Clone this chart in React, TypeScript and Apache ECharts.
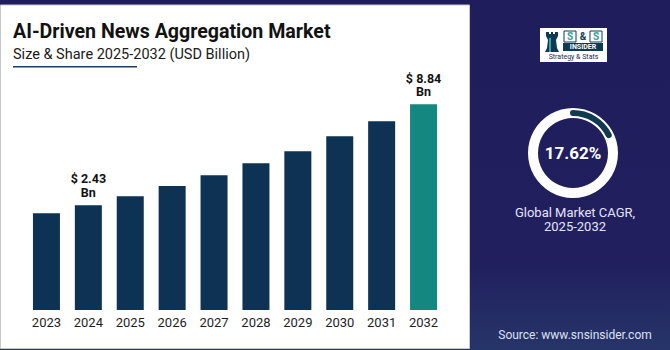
import React, { useEffect, useRef } from "react";
import * as echarts from "echarts";

const years = ["2023", "2024", "2025", "2026", "2027", "2028", "2029", "2030", "2031", "2032"];
const marketValues = [1.92, 2.43, 3.0, 3.64, 4.33, 5.1, 5.86, 6.81, 7.76, 8.84];
const labeledYears = ["2024", "2032"];
const highlightYear = "2032";
const cagrValue = 17.62;
const titleText = "AI-Driven News Aggregation Market";
const subtitleText = "Size & Share 2025-2032 (USD Billion)";
const cagrLabel = "Global Market CAGR,\n2025-2032";
const sourceText = "Source: www.snsinsider.com";
// the reference's bars do not start at zero: their baseline sits at -4.23 on the value scale
const baseOffset = 4.23;

const NAVY = "#0d3253";
const TEAL = "#158781";

export default function App() {
  const ref = useRef<HTMLDivElement>(null);
  useEffect(() => {
    if (!ref.current) return;
    const chart = echarts.init(ref.current, undefined, { renderer: "svg" });
    const barData = years.map((y, i) => ({
      value: marketValues[i] + baseOffset,
      itemStyle: { color: y === highlightYear ? TEAL : NAVY },
      label: {
        show: labeledYears.includes(y),
        position: "top",
        distance: 6,
        formatter: (p: any) => `$ ${marketValues[p.dataIndex].toFixed(2)}\nBn`,
        fontFamily: "Roboto",
        fontWeight: "bold",
        fontSize: 12.5,
        lineHeight: 13.5,
        color: "#111",
      },
    }));
    chart.setOption({
      animation: false,
      graphic: [
        { type: "rect", z: -10, shape: { x: 0, y: 0, width: 670, height: 350 },
          style: { fill: new echarts.graphic.LinearGradient(0, 0, 0, 1, [
            { offset: 0, color: "#1f1d5b" }, { offset: 0.75, color: "#211f5e" }, { offset: 1, color: "#263569" }]) } },
        { type: "rect", z: -9, shape: { x: 0.5, y: 5, width: 469, height: 343.5 },
          style: { fill: "#ffffff", stroke: "#c9c9c9", lineWidth: 1 } },
        { type: "text", x: 13, y: 31, style: { text: titleText, fontFamily: "Roboto", fontWeight: "bold", fontSize: 19.6, fill: "#121212", textVerticalAlign: "middle" } },
        { type: "text", x: 13, y: 54, style: { text: subtitleText, fontFamily: "Roboto", fontSize: 14.5, fill: "#1a1a1a", textVerticalAlign: "middle" } },
        { type: "rect", shape: { x: 13, y: 66, width: 124, height: 1.5 }, style: { fill: "#1c3d63" } },
        // logo
        { type: "rect", shape: { x: 540, y: 28, width: 67, height: 34 }, style: { fill: "#ffffff" } },
        { type: "polygon", shape: { points: [[545, 52], [559, 52], [557, 48], [556, 40], [558, 36], [558, 32], [555, 32], [555, 34], [553, 34], [553, 32], [551, 32], [551, 34], [549, 34], [549, 32], [546, 32], [546, 36], [548, 40], [547, 48]] }, style: { fill: "#0e3a55" } },
        { type: "rect", shape: { x: 549, y: 38, width: 2, height: 14 }, style: { fill: "#36a6a0" } },
        { type: "rect", shape: { x: 564, y: 31, width: 12, height: 11 }, style: { fill: "#ffffff", stroke: "#0e3a55", lineWidth: 1 } },
        { type: "rect", shape: { x: 590, y: 31, width: 12, height: 11 }, style: { fill: "#ffffff", stroke: "#0e3a55", lineWidth: 1 } },
        { type: "text", x: 570, y: 36.5, style: { text: "S", fontFamily: "Roboto", fontWeight: "bold", fontSize: 10, fill: "#2ea39c", align: "center", verticalAlign: "middle" } },
        { type: "text", x: 583, y: 36.5, style: { text: "&", fontFamily: "Roboto", fontWeight: "bold", fontSize: 10, fill: "#0e3a55", align: "center", verticalAlign: "middle" } },
        { type: "text", x: 596, y: 36.5, style: { text: "S", fontFamily: "Roboto", fontWeight: "bold", fontSize: 10, fill: "#2ea39c", align: "center", verticalAlign: "middle" } },
        { type: "rect", shape: { x: 563, y: 43, width: 40, height: 8 }, style: { fill: "#0e3a55" } },
        { type: "text", x: 583, y: 47.3, style: { text: "INSIDER", fontFamily: "Roboto", fontWeight: "bold", fontSize: 7, fill: "#ffffff", align: "center", verticalAlign: "middle" } },
        { type: "text", x: 573.5, y: 57, style: { text: "Strategy & Stats", fontFamily: "Roboto", fontSize: 7, fill: "#1e2a4a", align: "center", verticalAlign: "middle" } },
        // cagr texts
        { type: "text", x: 575, y: 219.5, style: { text: cagrLabel, fontFamily: "Roboto", fontSize: 13, lineHeight: 14, fill: "#e4e4fb", align: "center", verticalAlign: "middle" } },
        { type: "text", x: 575, y: 335, style: { text: sourceText, fontFamily: "Roboto", fontSize: 12, fill: "#dfe0f5", align: "center", verticalAlign: "middle" } },
      ],
      grid: { left: 25.5, right: 225.5, top: 86, bottom: 40, containLabel: false },
      xAxis: {
        type: "category",
        data: years,
        axisLine: { show: false },
        axisTick: { show: false },
        axisLabel: { color: "#1e1e1e", fontFamily: "Roboto", fontSize: 13, margin: 6 },
      },
      yAxis: { type: "value", min: 0, max: 14.23, show: false, splitLine: { show: false } },
      series: [
        { type: "bar", data: barData, barWidth: 27 },
        {
          type: "gauge", center: [573, 153], radius: 45, startAngle: 90, endAngle: -270,
          min: 0, max: 100,
          axisLine: { lineStyle: { width: 10, color: [[1, "#ffffff"]] } },
          axisTick: { show: false }, splitLine: { show: false }, axisLabel: { show: false },
          pointer: { show: false }, title: { show: false }, detail: { show: false },
          data: [{ value: cagrValue }],
        },
        {
          type: "gauge", center: [573, 153], radius: 43, startAngle: 90, endAngle: -270,
          min: 0, max: 100,
          axisLine: { lineStyle: { width: 6, color: [[1, "rgba(0,0,0,0)"]] } },
          progress: { show: true, width: 6, roundCap: true, itemStyle: { color: "#0f3a4f" } },
          axisTick: { show: false }, splitLine: { show: false }, axisLabel: { show: false },
          pointer: { show: false }, title: { show: false },
          detail: { show: true, offsetCenter: [0, 0], formatter: (v: number) => `${v.toFixed(2)}%`, color: "#ffffff", fontFamily: "Roboto", fontWeight: "bold", fontSize: 17 },
          data: [{ value: cagrValue }],
        },
      ],
    });
    return () => chart.dispose();
  }, []);
  return <div ref={ref} style={{ position: "absolute", left: 0, top: 0, width: 670, height: 350 }} />;
}
